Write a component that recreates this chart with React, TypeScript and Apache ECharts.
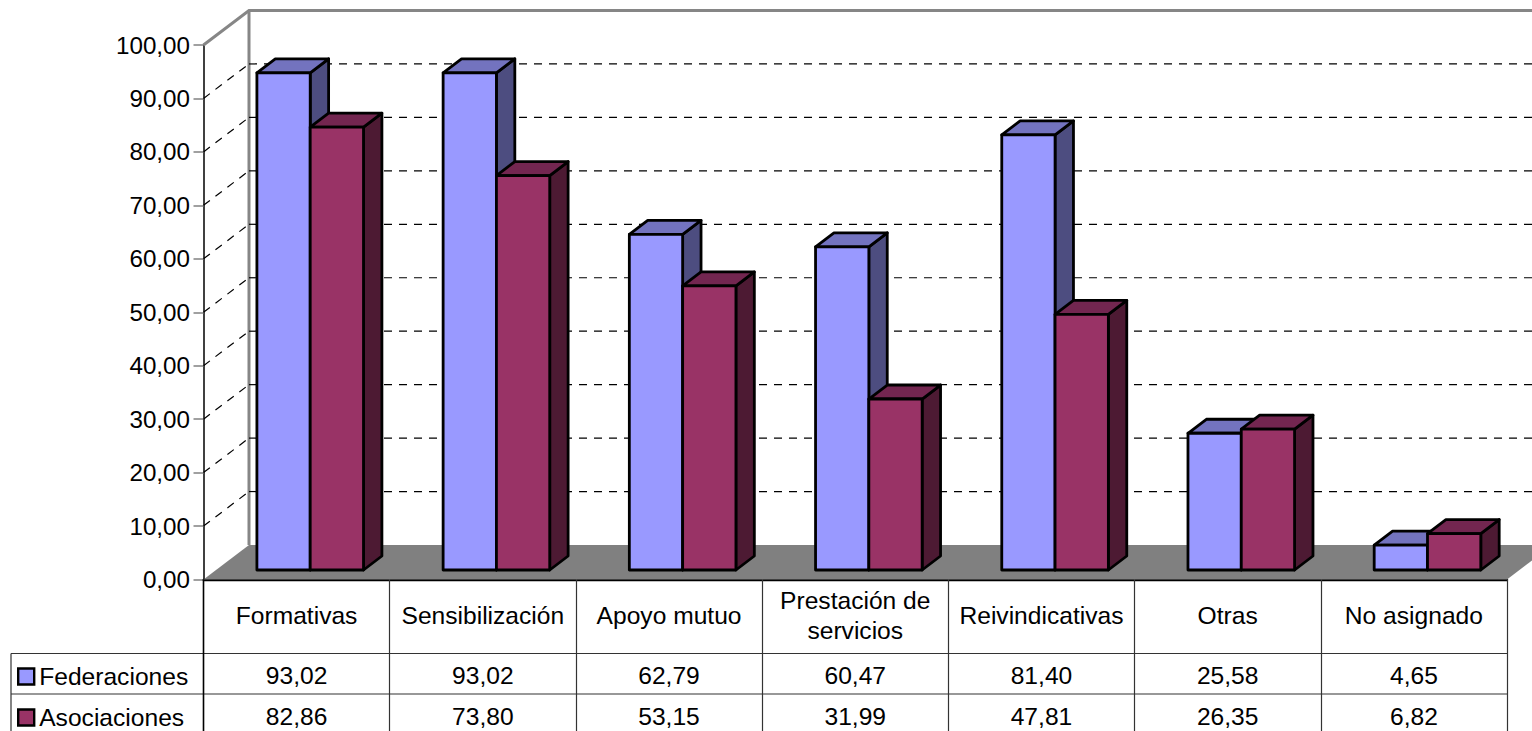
import React, { useEffect, useRef } from "react";
import * as echarts from "echarts";

const categories = ["Formativas", "Sensibilización", "Apoyo mutuo", "Prestación de\nservicios", "Reivindicativas", "Otras", "No asignado"];
const federaciones = [93.02, 93.02, 62.79, 60.47, 81.4, 25.58, 4.65];
const asociaciones = [82.86, 73.8, 53.15, 31.99, 47.81, 26.35, 6.82];
const gridValues = [10, 20, 30, 40, 50, 60, 70, 80, 90];

const FONT = "Liberation Sans";
const FS = 24.6;
const GRID = { left: 203.5, top: 45, width: 1303.5, height: 534.5 };
const FLOOR_DX = 45.5;
const FLOOR_DY = 34.5;
const BAR_W = 53.3;
const BAR_DX = 18.4;
const BAR_DY = 14;
const BAR_SHIFT = 13.6;
const BAR_LIFT = 9.5;
const ROW1 = 653.5;
const ROW2 = 694;
const TEXT1 = 675;
const TEXT2 = 716.5;
const WALL = "#868686";

const fmt = (v: number) => v.toFixed(2).replace(".", ",");

function barSeries(name: string, values: number[], idx: number, front: string, top: string, side: string, textY: number) {
  return {
    type: "custom",
    name,
    z: 3 + idx,
    silent: true,
    itemStyle: { color: front },
    encode: { x: 0, y: 1 },
    data: values.map((v, i) => [i, v]),
    renderItem: (_params: any, api: any) => {
      const i = api.value(0);
      const v = api.value(1);
      const [cx, yTop] = api.coord([i, v]);
      const [, yBase] = api.coord([i, 0]);
      const x0 = cx + BAR_SHIFT - BAR_W + idx * BAR_W;
      const x1 = x0 + BAR_W;
      const y0 = yTop - BAR_LIFT;
      const y1 = yBase - BAR_LIFT;
      const stroke = { stroke: "#000", lineWidth: 2.8, lineJoin: "round" };
      return {
        type: "group",
        children: [
          { type: "polygon", shape: { points: [[x1, y0], [x1 + BAR_DX, y0 - BAR_DY], [x1 + BAR_DX, y1 - BAR_DY], [x1, y1]] }, style: { fill: side, ...stroke } },
          { type: "polygon", shape: { points: [[x0, y0], [x0 + BAR_DX, y0 - BAR_DY], [x1 + BAR_DX, y0 - BAR_DY], [x1, y0]] }, style: { fill: top, ...stroke } },
          { type: "polygon", shape: { points: [[x0, y0], [x1, y0], [x1, y1], [x0, y1]] }, style: { fill: front, ...stroke } },
          { type: "text", style: { text: fmt(v), x: cx, y: textY, align: "center", verticalAlign: "middle", fontSize: FS, fontFamily: FONT, fill: "#000" } },
        ],
      };
    },
  };
}

export default function App() {
  const ref = useRef<HTMLDivElement>(null);
  useEffect(() => {
    const chart = echarts.init(ref.current!, undefined, { renderer: "svg" });
    chart.setOption({
      animation: false,
      backgroundColor: "#fff",
      textStyle: { fontFamily: FONT },
      grid: { ...GRID, containLabel: false },
      legend: {
        data: [
          { name: "Federaciones", icon: "rect" },
          { name: "Asociaciones", icon: "rect" },
        ],
        orient: "vertical",
        left: 17,
        top: 664,
        padding: 0,
        itemWidth: 16,
        itemHeight: 16,
        itemGap: 16,
        selectedMode: false,
        itemStyle: { borderColor: "#000", borderWidth: 2.4 },
        textStyle: { fontSize: FS, fontFamily: FONT, color: "#000", padding: [0, 0, 0, 0] },
      },
      xAxis: {
        type: "category",
        data: categories,
        axisLine: { show: true, lineStyle: { color: "#000", width: 2.4 } },
        axisTick: { show: true, alignWithLabel: false, length: 152, lineStyle: { color: "#333", width: 1.2 } },
        axisLabel: { show: true, interval: 0, margin: 36, fontSize: FS, fontFamily: FONT, color: "#000", lineHeight: 30, verticalAlign: "middle", align: "center" },
        splitLine: { show: false },
      },
      yAxis: {
        type: "value",
        min: 0,
        max: 100,
        interval: 10,
        axisLine: { show: true, lineStyle: { color: "#000", width: 1.5 } },
        axisTick: { show: true, length: 10, lineStyle: { color: "#808080", width: 1.5 } },
        axisLabel: { margin: 13.5, fontSize: 24.2, fontFamily: FONT, color: "#000", formatter: (v: number) => fmt(v) },
        splitLine: { show: false },
      },
      series: [
        {
          type: "custom",
          name: "frame",
          z: 1,
          silent: true,
          encode: { y: 0 },
          data: [[0]],
          renderItem: (params: any, api: any) => {
            const cs = params.coordSys;
            const left = cs.x;
            const right = cs.x + cs.width;
            const [, y0] = api.coord([0, 0]);
            const [, y100] = api.coord([0, 100]);
            const far = right + FLOOR_DX;
            return {
              type: "group",
              children: [
                { type: "polygon", shape: { points: [[left, y0], [left + FLOOR_DX, y0 - FLOOR_DY], [far, y0 - FLOOR_DY], [right, y0]] }, style: { fill: "#808080" } },
                { type: "polyline", shape: { points: [[left, y100], [left + FLOOR_DX, y100 - FLOOR_DY], [far, y100 - FLOOR_DY]] }, style: { fill: "none", stroke: WALL, lineWidth: 3 } },
                { type: "line", shape: { x1: left + FLOOR_DX, y1: y100 - FLOOR_DY, x2: left + FLOOR_DX, y2: y0 - FLOOR_DY }, style: { stroke: WALL, lineWidth: 3 } },
                { type: "line", shape: { x1: 11, y1: ROW1, x2: right, y2: ROW1 }, style: { stroke: "#333", lineWidth: 1.2 } },
                { type: "line", shape: { x1: 11, y1: ROW2, x2: right, y2: ROW2 }, style: { stroke: "#333", lineWidth: 1.2 } },
                { type: "line", shape: { x1: 11, y1: ROW1, x2: 11, y2: 731 }, style: { stroke: "#333", lineWidth: 1.2 } },
                { type: "line", shape: { x1: left, y1: y0, x2: left, y2: 731 }, style: { stroke: "#000", lineWidth: 1.5 } },
              ],
            };
          },
        },
        {
          type: "custom",
          name: "grid",
          z: 2,
          silent: true,
          encode: { y: 0 },
          data: gridValues.map((v) => [v]),
          renderItem: (params: any, api: any) => {
            const cs = params.coordSys;
            const left = cs.x;
            const far = cs.x + cs.width + FLOOR_DX;
            const [, y] = api.coord([0, api.value(0)]);
            const line = { stroke: "#000", lineWidth: 1.2, lineDash: [8, 7] };
            return {
              type: "group",
              children: [
                { type: "line", shape: { x1: left, y1: y, x2: left + FLOOR_DX, y2: y - FLOOR_DY }, style: line },
                { type: "line", shape: { x1: left + FLOOR_DX, y1: y - FLOOR_DY, x2: far, y2: y - FLOOR_DY }, style: line },
              ],
            };
          },
        },
        barSeries("Federaciones", federaciones, 0, "#9999FF", "#7373BF", "#4D4D80", TEXT1),
        barSeries("Asociaciones", asociaciones, 1, "#993366", "#732650", "#4D1A33", TEXT2),
      ],
    });
    return () => chart.dispose();
  }, []);
  return <div ref={ref} style={{ position: "fixed", left: 0, top: 0, width: 1532, height: 731, overflow: "hidden" }} />;
}
